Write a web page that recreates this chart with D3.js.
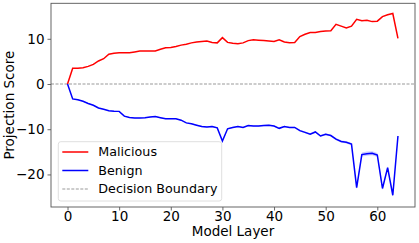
<!DOCTYPE html>
<html>
<head>
<meta charset="utf-8">
<script src="https://cdnjs.cloudflare.com/ajax/libs/d3/7.8.5/d3.min.js"></script>
<style>
  body { margin: 0; background: #fff; }
  svg { display: block; font-family: "DejaVu Sans", sans-serif; }
</style>
</head>
<body>
<svg id="chart" width="419" height="243"></svg>
<script>
// mean projection score per layer
const malicious = [0, 3.47, 3.5, 3.6, 3.9, 4.35, 5.1, 5.6, 6.6, 6.8,
  6.9, 6.9, 6.9, 7.1, 7.3, 7.3, 7.3, 7.3, 7.7, 8.0,
  8.1, 8.3, 8.6, 8.8, 9.1, 9.3, 9.4, 9.5, 9.2, 9.1,
  10.25, 9.2, 9.0, 8.9, 9.1, 9.6, 9.8, 9.7, 9.6, 9.5,
  9.4, 9.8, 9.3, 9.14, 9.2, 10.5, 11.0, 11.4, 11.4, 11.6,
  11.7, 11.8, 13.2, 12.8, 12.4, 12.8, 14.3, 14.0, 14.1, 13.8,
  13.9, 14.9, 15.3, 15.6, 10.1]

const benign = [0, -3.3, -3.5, -3.8, -4.3, -4.7, -5.3, -5.6, -5.9, -6.0,
  -6.05, -7.1, -7.4, -7.5, -7.5, -7.45, -7.3, -7.2, -7.45, -7.7,
  -7.7, -7.7, -8.0, -8.6, -8.8, -9.1, -9.4, -9.5, -9.4, -9.7,
  -12.6, -9.9, -9.6, -9.4, -9.6, -9.2, -9.3, -9.3, -9.2, -9.1,
  -9.3, -9.8, -9.4, -9.6, -9.6, -10.3, -10.7, -11.1, -10.6, -11.5,
  -11.1, -11.4, -12.2, -12.7, -12.9, -13.3, -22.9, -15.6, -15.4, -15.3,
  -15.7, -23.1, -18.5, -24.6, -11.5]

// spread band (only really visible on the benign side, late layers)
const benignStd = [0, 0.1, 0.1, 0.1, 0.1, 0.1, 0.1, 0.1, 0.1, 0.1,
  0.1, 0.1, 0.1, 0.1, 0.1, 0.1, 0.1, 0.1, 0.1, 0.1,
  0.1, 0.1, 0.1, 0.1, 0.1, 0.15, 0.15, 0.15, 0.15, 0.15,
  0.2, 0.15, 0.15, 0.15, 0.15, 0.15, 0.15, 0.15, 0.15, 0.15,
  0.15, 0.15, 0.15, 0.15, 0.15, 0.2, 0.2, 0.2, 0.2, 0.2,
  0.2, 0.2, 0.25, 0.25, 0.25, 0.25, 0.4, 0.45, 0.45, 0.45,
  0.45, 0.4, 0.3, 0.3, 0.3]

const xTicks = [0, 10, 20, 30, 40, 50, 60]
const yTicks = [-20, -10, 0, 10]
const seriesNames = ["Malicious", "Benign", "Decision Boundary"]

const layers = malicious.map((d, i) => i)

const margin = {top: 3.3, right: 4, bottom: 36, left: 51}
const width = 419, height = 243
const svg = d3.select("#chart")

const x = d3.scaleLinear().domain([-3.2, 67.3]).range([margin.left, width - margin.right])
const y = d3.scaleLinear().domain([-27.2, 17.85]).range([height - margin.bottom, margin.top])

const fontTick = 13.5

// decision boundary
svg.append("line")
  .attr("x1", x.range()[0]).attr("x2", x.range()[1])
  .attr("y1", y(0)).attr("y2", y(0))
  .attr("stroke", "#999")
  .attr("stroke-width", 1)
  .attr("stroke-dasharray", "3,1.5")

// bands
const area = (vals, sd) => d3.area()
  .x((d, i) => x(layers[i]))
  .y0((d, i) => y(vals[i] - sd[i]))
  .y1((d, i) => y(vals[i] + sd[i]))

svg.append("path")
  .datum(benign)
  .attr("d", area(benign, benignStd))
  .attr("fill", "blue")
  .attr("fill-opacity", 0.2)

const line = d3.line().x((d, i) => x(layers[i])).y(d => y(d))

svg.append("path").datum(malicious)
  .attr("d", line)
  .attr("fill", "none").attr("stroke", "red").attr("stroke-width", 1.5)

svg.append("path").datum(benign)
  .attr("d", line)
  .attr("fill", "none").attr("stroke", "blue").attr("stroke-width", 1.5)

// axes
const xAxis = svg.append("g")
  .attr("transform", `translate(0,${y.range()[0]})`)
  .call(d3.axisBottom(x).tickValues(xTicks).tickSize(3.5).tickPadding(0.6))
const yAxis = svg.append("g")
  .attr("transform", `translate(${x.range()[0]},0)`)
  .call(d3.axisLeft(y).tickValues(yTicks).tickSize(3.5).tickPadding(3))

;[xAxis, yAxis].forEach(g => {
  g.select(".domain").remove()
  g.selectAll(".tick line").attr("stroke", "#444").attr("stroke-width", 0.8)
  g.selectAll("text").attr("font-size", fontTick).attr("fill", "#000")
    .attr("font-family", "DejaVu Sans")
})

// frame
svg.append("rect")
  .attr("x", x.range()[0]).attr("y", y.range()[1])
  .attr("width", x.range()[1] - x.range()[0])
  .attr("height", y.range()[0] - y.range()[1])
  .attr("fill", "none").attr("stroke", "#555").attr("stroke-width", 0.9)

svg.append("text")
  .attr("x", (x.range()[0] + x.range()[1]) / 2)
  .attr("y", 236)
  .attr("text-anchor", "middle")
  .attr("font-size", 13.5)
  .text("Model Layer")

svg.append("text")
  .attr("transform", `translate(14,${(y.range()[0] + y.range()[1]) / 2}) rotate(-90)`)
  .attr("text-anchor", "middle")
  .attr("font-size", 13.5)
  .text("Projection Score")

// legend
const legend = svg.append("g").attr("transform", "translate(58.3,141.7)")
legend.append("rect")
  .attr("width", 163.4).attr("height", 59.3)
  .attr("rx", 2.5)
  .attr("fill", "#fff").attr("fill-opacity", 0.8)
  .attr("stroke", "#d6d6d6").attr("stroke-width", 0.8)

const legendStyle = [
  {color: "red", width: 1.5, dash: null},
  {color: "blue", width: 1.5, dash: null},
  {color: "#999", width: 1, dash: "3,1.5"},
]
seriesNames.forEach((name, i) => {
  const row = legend.append("g").attr("transform", `translate(0,${10.3 + i * 18.5})`)
  row.append("line")
    .attr("x1", 4).attr("x2", 30)
    .attr("stroke", legendStyle[i].color)
    .attr("stroke-width", legendStyle[i].width)
    .attr("stroke-dasharray", legendStyle[i].dash)
  row.append("text")
    .attr("x", 40).attr("dy", "0.35em")
    .attr("font-size", 12.7)
    .text(name)
})
</script>
</body>
</html>
